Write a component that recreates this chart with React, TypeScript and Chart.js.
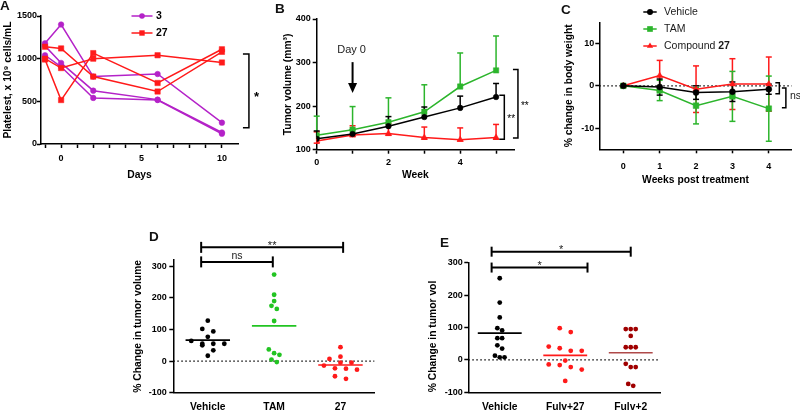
import React, { useEffect, useRef } from "react";
import { Chart, registerables } from "chart.js";

Chart.register(...registerables);

const FONT = "'Liberation Sans', Arial, Helvetica, sans-serif";
Chart.defaults.font.family = FONT;

const BLACK = "#000000";
const PURPLE = "#b422c8";
const RED = "#ff1a1a";
const GREEN = "#2cb52c";
const DOT_GREEN = "#22c422";
const DARKRED = "#a00000";
const DARKRED_MEAN = "#b04a4a";

/* ---------------- Panel A: platelets ---------------- */
const daysA = [-1, 0, 2, 6, 10];
const daysATicks = [-1, 0, 1, 2, 3, 4, 5, 6, 7, 8, 9, 10];
const plateletTicks = [0, 500, 1000, 1500];
const platelets3a = [1180, 1400, 790, 820, 250];
const platelets3b = [1150, 950, 625, 520, 135];
const platelets3c = [1040, 905, 540, 515, 120];
const platelets27a = [1140, 1120, 790, 615, 1080];
const platelets27b = [1000, 890, 1000, 1040, 955];
const platelets27c = [990, 515, 1065, 715, 1110];
const legendA = ["3", "27"];

/* ---------------- Panel B: tumor volume ---------------- */
const weeksB = [0, 1, 2, 3, 4, 5];
const volumeTicks = [100, 200, 300, 400];
const volVehicle = [125, 136, 154, 175, 196, 221];
const volVehicleErr = [18, 10, 22, 23, 27, 31];
const volTAM = [133, 146, 163, 187, 245, 282];
const volTAMErr = [44, 53, 56, 62, 77, 79];
const vol27 = [120, 134, 137, 128, 123, 128];
const vol27ErrUp = [21, 21, 23, 24, 27, 30];
const vol27ErrDown = [5, 4, 4, 4, 3, 4];

/* ---------------- Panel C: body weight ---------------- */
const weeksC = [0, 1, 2, 3, 4];
const bodyTicks = [-10, 0, 10];
const bwVehicle = [0, -0.3, -1.6, -1.4, -0.8];
const bwVehicleErr = [0, 1.9, 1.6, 2.3, 1.2];
const bwTAM = [0, -1.1, -4.7, -2.5, -5.4];
const bwTAMErr = [0, 2.4, 4.3, 5.9, 7.7];
const bw27 = [0, 2.4, -0.8, 0.4, 0.4];
const bw27Err = [0, 3.6, 5.5, 6.0, 6.4];
const legendC = ["Vehicle", "TAM", "Compound "];
const legendCBold = "27";

/* ---------------- Panel D ---------------- */
const catsD = ["Vehicle", "TAM", "27"];
const pctTicks = [-100, 0, 100, 200, 300];
const dVehicle = [128, 102, 94, 77, 64, 55, 55, 55, 50, 34, 17];
const dTAM = [274, 210, 190, 175, 165, 127, 37, 25, 20, 5, -3];
const d27 = [44, 14, 7, -5, -5, -14, -23, -24, -27, -48, -56];

/* ---------------- Panel E ---------------- */
const catsE = ["Vehicle", "Fulv+27", "Fulv+2"];
const eVehicle = [252, 177, 131, 98, 91, 67, 67, 45, 35, 13, 8, 8];
const eFulv27 = [98, 86, 41, 36, 28, 28, -2, -14, -16, -22, -30, -65];
const eFulv2 = [95, 95, 95, 74, 39, 39, 39, -12, -22, -22, -74, -80];

/* ---------------- helpers ---------------- */
type Pt = { x: number; y: number };
const mean = (a: number[]) => a.reduce((s, v) => s + v, 0) / a.length;

// simple row-based dot-plot layout (scatter dot plot spreading)
function swarm(values: number[], cat: number, tol: number, step: number): Pt[] {
  const sorted = [...values].sort((a, b) => a - b);
  const rows: number[][] = [];
  let cur: number[] = [];
  for (const v of sorted) {
    if (cur.length && v - cur[0] > tol) {
      rows.push(cur);
      cur = [];
    }
    cur.push(v);
  }
  if (cur.length) rows.push(cur);
  const pts: Pt[] = [];
  for (const row of rows) {
    const r = [...row].sort((a, b) => b - a);
    r.forEach((v, i) => pts.push({ x: cat + (i - (r.length - 1) / 2) * step, y: v }));
  }
  return pts;
}

const TICK_FONT = { family: FONT, size: 9, weight: "bold" as const };
const TITLE_FONT = { family: FONT, size: 10.3, weight: "bold" as const };

function linY(o: any) {
  return {
    type: "linear",
    position: "left",
    min: o.min,
    max: o.max,
    afterBuildTicks: (s: any) => {
      s.ticks = o.ticks.map((v: number) => ({ value: v }));
    },
    afterFit: (s: any) => {
      s.width = o.width;
    },
    border: { display: true, color: BLACK, width: 1.5 },
    grid: { display: true, drawOnChartArea: false, drawTicks: true, tickLength: 4, tickColor: BLACK, tickWidth: 1.5 },
    ticks: { color: BLACK, font: TICK_FONT, padding: o.tickPad, autoSkip: false, maxRotation: 0, callback: (v: any) => String(v) },
    title: { display: true, text: o.title, color: BLACK, font: TITLE_FONT, padding: { top: o.titlePad, bottom: 0 }, align: o.align || "center" },
  };
}

function linX(o: any) {
  return {
    type: "linear",
    position: "bottom",
    min: o.min,
    max: o.max,
    afterBuildTicks: (s: any) => {
      s.ticks = o.ticks.map((v: number) => ({ value: v }));
    },
    afterFit: (s: any) => {
      s.height = o.height;
    },
    border: { display: true, color: BLACK, width: 1.5 },
    grid: o.tickMarks
      ? { display: true, drawOnChartArea: false, drawTicks: true, tickLength: 4, tickColor: BLACK, tickWidth: 1.5 }
      : { display: false, drawOnChartArea: false, drawTicks: false },
    ticks: { color: BLACK, font: o.font || TICK_FONT, padding: o.tickPad, autoSkip: false, maxRotation: 0, callback: o.label },
    title: o.title
      ? { display: true, text: o.title, color: BLACK, font: TITLE_FONT, padding: { top: 0, bottom: o.titlePad } }
      : { display: false },
  };
}

function baseOptions(padding: any, scales: any) {
  return {
    responsive: false,
    maintainAspectRatio: false,
    animation: false,
    devicePixelRatio: 1,
    events: [],
    layout: { padding },
    plugins: { legend: { display: false }, tooltip: { enabled: false }, title: { display: false } },
    scales,
  };
}

function lineSet(xs: number[], ys: number[], color: string, style: string, radius: number) {
  return {
    data: xs.map((x, i) => ({ x, y: ys[i] })),
    borderColor: color,
    backgroundColor: color,
    borderWidth: 1.5,
    pointStyle: style,
    pointRadius: radius,
    pointHoverRadius: radius,
    pointBackgroundColor: color,
    pointBorderColor: color,
    pointBorderWidth: 0.5,
    tension: 0,
    fill: false,
  };
}

function setFont(ctx: CanvasRenderingContext2D, size: number, weight = "normal") {
  ctx.font = `${weight} ${size}px ${FONT}`;
}
function seg(ctx: CanvasRenderingContext2D, x1: number, y1: number, x2: number, y2: number) {
  ctx.beginPath();
  ctx.moveTo(x1, y1);
  ctx.lineTo(x2, y2);
  ctx.stroke();
}
function drawMarker(ctx: CanvasRenderingContext2D, style: string, x: number, y: number, r: number, color: string) {
  ctx.fillStyle = color;
  ctx.beginPath();
  if (style === "circle") ctx.arc(x, y, r, 0, Math.PI * 2);
  else if (style === "rect") {
    const s = r * Math.SQRT1_2;
    ctx.rect(x - s, y - s, 2 * s, 2 * s);
  } else {
    let rad = 0;
    for (let k = 0; k < 3; k++) {
      const px = x + Math.sin(rad) * r;
      const py = y - Math.cos(rad) * r;
      if (k === 0) ctx.moveTo(px, py);
      else ctx.lineTo(px, py);
      rad += (2 * Math.PI) / 3;
    }
    ctx.closePath();
  }
  ctx.fill();
}
function errorBars(chart: any, dsIndex: number, up: number[], down: number[], color: string, cap: number) {
  const ctx: CanvasRenderingContext2D = chart.ctx;
  const yS = chart.scales.y;
  const meta = chart.getDatasetMeta(dsIndex);
  const ds = chart.data.datasets[dsIndex].data;
  ctx.save();
  ctx.strokeStyle = color;
  ctx.lineWidth = 1.5;
  meta.data.forEach((el: any, i: number) => {
    const v = ds[i].y;
    if (up[i] > 0) {
      const yt = yS.getPixelForValue(v + up[i]);
      seg(ctx, el.x, el.y, el.x, yt);
      seg(ctx, el.x - cap / 2, yt, el.x + cap / 2, yt);
    }
    if (down[i] > 0) {
      const yb = yS.getPixelForValue(v - down[i]);
      seg(ctx, el.x, el.y, el.x, yb);
      seg(ctx, el.x - cap / 2, yb, el.x + cap / 2, yb);
    }
  });
  ctx.restore();
}
function vBracket(ctx: CanvasRenderingContext2D, x: number, yTop: number, yBot: number, tick: number) {
  ctx.beginPath();
  ctx.moveTo(x - tick, yTop);
  ctx.lineTo(x, yTop);
  ctx.lineTo(x, yBot);
  ctx.lineTo(x - tick, yBot);
  ctx.stroke();
}
function hBracket(ctx: CanvasRenderingContext2D, x1: number, x2: number, y: number, half: number) {
  seg(ctx, x1, y, x2, y);
  seg(ctx, x1, y - half, x1, y + half);
  seg(ctx, x2, y - half, x2, y + half);
}
function zeroLine(chart: any) {
  const ctx: CanvasRenderingContext2D = chart.ctx;
  const y = chart.scales.y.getPixelForValue(0);
  const { left, right } = chart.chartArea;
  ctx.save();
  ctx.setLineDash([1.5, 2.5]);
  ctx.lineWidth = 1.2;
  ctx.strokeStyle = BLACK;
  seg(ctx, left, y, right, y);
  ctx.restore();
}

/* ---------------- Panel configs ---------------- */
function configA() {
  const datasets = [
    ...[platelets27a, platelets27b, platelets27c].map((ys) => lineSet(daysA, ys, RED, "rect", 3.8)),
    ...[platelets3a, platelets3b, platelets3c].map((ys) => lineSet(daysA, ys, PURPLE, "circle", 2.8)),
  ];
  const plugin = {
    id: "annotA",
    afterDraw(chart: any) {
      const ctx: CanvasRenderingContext2D = chart.ctx;
      ctx.save();
      const entries = [
        { label: legendA[0], color: PURPLE, style: "circle", r: 2.8, y: 16 },
        { label: legendA[1], color: RED, style: "rect", r: 3.8, y: 33 },
      ];
      entries.forEach((e) => {
        ctx.strokeStyle = e.color;
        ctx.lineWidth = 1.5;
        seg(ctx, 131.5, e.y, 152.5, e.y);
        drawMarker(ctx, e.style, 142, e.y, e.r, e.color);
        ctx.fillStyle = BLACK;
        setFont(ctx, 10.5, "bold");
        ctx.textAlign = "left";
        ctx.textBaseline = "middle";
        ctx.fillText(e.label, 156, e.y + 0.5);
      });
      const xS = chart.scales.x;
      const yS = chart.scales.y;
      const bx = xS.getPixelForValue(11.68);
      const yt = yS.getPixelForValue(1055);
      const yb = yS.getPixelForValue(190);
      ctx.strokeStyle = BLACK;
      ctx.lineWidth = 1.5;
      vBracket(ctx, bx, yt, yb, 6);
      ctx.fillStyle = BLACK;
      setFont(ctx, 13, "bold");
      ctx.textAlign = "left";
      ctx.textBaseline = "alphabetic";
      ctx.fillText("*", bx + 5, (yt + yb) / 2 + 10);
      ctx.restore();
    },
  };
  return {
    type: "line",
    data: { datasets },
    options: baseOptions(
      { left: 0, top: 16, right: 32, bottom: 0 },
      {
        x: linX({ min: -1.25, max: 11, ticks: daysATicks, height: 46, title: "Days", titlePad: 8.7, tickPad: 5, tickMarks: true, label: (v: any) => (v % 5 === 0 ? String(v) : "") }),
        y: linY({ min: 0, max: 1500, ticks: plateletTicks, width: 41, title: "Platelest, x 10⁹ cells/mL", titlePad: 2, tickPad: 0 }),
      }
    ),
    plugins: [plugin],
  };
}

function configB() {
  const datasets = [
    lineSet(weeksB, volVehicle, BLACK, "circle", 2.8),
    lineSet(weeksB, volTAM, GREEN, "rect", 3.8),
    lineSet(weeksB, vol27, RED, "triangle", 3.6),
  ];
  const zeros = weeksB.map(() => 0);
  const plugin = {
    id: "annotB",
    beforeDatasetsDraw(chart: any) {
      errorBars(chart, 2, vol27ErrUp, vol27ErrDown, RED, 6);
      errorBars(chart, 1, volTAMErr, zeros, GREEN, 6);
      errorBars(chart, 0, volVehicleErr, zeros, BLACK, 6);
    },
    afterDraw(chart: any) {
      const ctx: CanvasRenderingContext2D = chart.ctx;
      const xS = chart.scales.x;
      const yS = chart.scales.y;
      ctx.save();
      // Day 0 marker
      const ax = xS.getPixelForValue(1);
      ctx.fillStyle = "#1a1a1a";
      setFont(ctx, 11, "normal");
      ctx.textAlign = "center";
      ctx.textBaseline = "middle";
      ctx.fillText("Day 0", ax - 1, yS.getPixelForValue(329));
      const yA = yS.getPixelForValue(301);
      const yT = yS.getPixelForValue(230);
      ctx.strokeStyle = BLACK;
      ctx.fillStyle = BLACK;
      ctx.lineWidth = 2;
      seg(ctx, ax, yA, ax, yT - 8);
      ctx.beginPath();
      ctx.moveTo(ax - 4.5, yT - 10);
      ctx.lineTo(ax + 4.5, yT - 10);
      ctx.lineTo(ax, yT);
      ctx.closePath();
      ctx.fill();
      // brackets
      ctx.lineWidth = 1.5;
      const br = [
        { x: 5.23, top: 225, bot: 124 },
        { x: 5.61, top: 284, bot: 127 },
      ];
      setFont(ctx, 10, "normal");
      ctx.textAlign = "left";
      ctx.textBaseline = "alphabetic";
      br.forEach((b) => {
        const bx = xS.getPixelForValue(b.x);
        const t = yS.getPixelForValue(b.top);
        const bt = yS.getPixelForValue(b.bot);
        vBracket(ctx, bx, t, bt, 5);
        ctx.fillText("**", bx + 3, (t + bt) / 2 + 5);
      });
      ctx.restore();
    },
  };
  return {
    type: "line",
    data: { datasets },
    options: baseOptions(
      { left: 0, top: 19, right: 26, bottom: 0 },
      {
        x: linX({ min: 0, max: 5.5, ticks: weeksB, height: 40.3, title: "Week", titlePad: 8.7, tickPad: 3.3, tickMarks: true, label: (v: any) => (v % 2 === 0 ? String(v) : "") }),
        y: linY({ min: 100, max: 400, ticks: volumeTicks, width: 46.7, title: "Tumor volume (mm³)", titlePad: 11.5, tickPad: 2 }),
      }
    ),
    plugins: [plugin],
  };
}

function configC() {
  const datasets = [
    lineSet(weeksC, bwVehicle, BLACK, "circle", 3),
    lineSet(weeksC, bwTAM, GREEN, "rect", 4),
    lineSet(weeksC, bw27, RED, "triangle", 3.6),
  ];
  const plugin = {
    id: "annotC",
    beforeDatasetsDraw(chart: any) {
      zeroLine(chart);
      errorBars(chart, 2, bw27Err, bw27Err, RED, 6);
      errorBars(chart, 1, bwTAMErr, bwTAMErr, GREEN, 6);
      errorBars(chart, 0, bwVehicleErr, bwVehicleErr, BLACK, 6);
    },
    afterDraw(chart: any) {
      const ctx: CanvasRenderingContext2D = chart.ctx;
      const xS = chart.scales.x;
      const yS = chart.scales.y;
      ctx.save();
      const entries = [
        { color: BLACK, style: "circle", r: 3, y: 12 },
        { color: GREEN, style: "rect", r: 4, y: 29 },
        { color: RED, style: "triangle", r: 3.6, y: 46 },
      ];
      entries.forEach((e, i) => {
        ctx.strokeStyle = e.color;
        ctx.lineWidth = 1.5;
        seg(ctx, 103.3, e.y, 116.7, e.y);
        drawMarker(ctx, e.style, 110, e.y, e.r, e.color);
        ctx.fillStyle = "#1a1a1a";
        setFont(ctx, 10.5, "normal");
        ctx.textAlign = "left";
        ctx.textBaseline = "middle";
        ctx.fillText(legendC[i], 124, e.y + 0.5);
        if (i === 2) {
          const w = ctx.measureText(legendC[i]).width;
          setFont(ctx, 10.5, "bold");
          ctx.fillText(legendCBold, 124 + w, e.y + 0.5);
        }
      });
      ctx.strokeStyle = BLACK;
      ctx.lineWidth = 1.5;
      const b1x = xS.getPixelForValue(4.29);
      vBracket(ctx, b1x, yS.getPixelForValue(0.7), yS.getPixelForValue(-1.9), 4);
      const b2x = xS.getPixelForValue(4.47);
      const t2 = yS.getPixelForValue(-0.5);
      const bt2 = yS.getPixelForValue(-5.2);
      vBracket(ctx, b2x, t2, bt2, 4);
      ctx.fillStyle = "#1a1a1a";
      setFont(ctx, 10.5, "normal");
      ctx.textAlign = "left";
      ctx.textBaseline = "middle";
      ctx.fillText("ns", b2x + 4, (t2 + bt2) / 2 - 2);
      ctx.restore();
    },
  };
  return {
    type: "line",
    data: { datasets },
    options: baseOptions(
      { left: 0, top: 22.3, right: 8.3, bottom: 0 },
      {
        x: linX({ min: -0.66, max: 4.63, ticks: weeksC, height: 45.7, title: "Weeks post treatment", titlePad: 8.7, tickPad: 8, tickMarks: true, label: (v: any) => String(v) }),
        y: linY({ min: -15, max: 15, ticks: bodyTicks, width: 59.3, title: "% change in body weight", titlePad: 23, tickPad: 1 }),
      }
    ),
    plugins: [plugin],
  };
}

function dotSet(values: number[], cat: number, tol: number, step: number, color: string) {
  return {
    data: swarm(values, cat, tol, step),
    backgroundColor: color,
    borderColor: color,
    pointRadius: 2.4,
    pointHoverRadius: 2.4,
    pointBorderWidth: 0,
    showLine: false,
  };
}
function meanSet(values: number[], cat: number, color: string) {
  const m = mean(values);
  return {
    data: [
      { x: cat - 0.335, y: m },
      { x: cat + 0.335, y: m },
    ],
    borderColor: color,
    backgroundColor: color,
    borderWidth: 1.6,
    pointRadius: 0,
    showLine: true,
  };
}

function hBracketPlugin(id: string, brackets: any[], half: number) {
  return {
    id,
    beforeDatasetsDraw(chart: any) {
      zeroLine(chart);
    },
    afterDraw(chart: any) {
      const ctx: CanvasRenderingContext2D = chart.ctx;
      const xS = chart.scales.x;
      const yS = chart.scales.y;
      ctx.save();
      ctx.strokeStyle = BLACK;
      ctx.fillStyle = "#1a1a1a";
      ctx.lineWidth = 2;
      brackets.forEach((b) => {
        const x1 = xS.getPixelForValue(b.from);
        const x2 = xS.getPixelForValue(b.to);
        const y = yS.getPixelForValue(b.y);
        hBracket(ctx, x1, x2, y, half);
        setFont(ctx, b.size, "normal");
        ctx.textAlign = "center";
        ctx.textBaseline = "alphabetic";
        ctx.fillText(b.text, (x1 + x2) / 2, y + b.dy);
      });
      ctx.restore();
    },
  };
}

function configD() {
  const datasets = [
    dotSet(dVehicle, 0, 16, 0.166, BLACK),
    dotSet(dTAM, 1, 17, 0.08, DOT_GREEN),
    dotSet(d27, 2, 16, 0.166, RED),
    meanSet(dVehicle, 0, BLACK),
    meanSet(dTAM, 1, DOT_GREEN),
    meanSet(d27, 2, RED),
  ];
  const plugin = hBracketPlugin(
    "annotD",
    [
      { from: -0.1, to: 2.04, y: 360, text: "**", size: 11, dy: 1.3 },
      { from: -0.1, to: 0.98, y: 314, text: "ns", size: 10.5, dy: -3 },
    ],
    5.5
  );
  return {
    type: "scatter",
    data: { datasets },
    options: baseOptions(
      { left: 0, top: 60, right: 25.7, bottom: 0 },
      {
        x: linX({ min: -0.52, max: 2.51, ticks: [0, 1, 2], height: 18.3, tickPad: 8, tickMarks: false, font: TITLE_FONT, label: (v: any) => catsD[v] ?? "" }),
        y: linY({ min: -100, max: 320, ticks: pctTicks, width: 73.3, title: "% Change in tumor volume", titlePad: 31.6, tickPad: 2.6 }),
      }
    ),
    plugins: [plugin],
  };
}

function configE() {
  const datasets = [
    dotSet(eVehicle, 0, 16, 0.073, BLACK),
    dotSet(eFulv27, 1, 16, 0.168, RED),
    dotSet(eFulv2, 2, 16, 0.076, DARKRED),
    meanSet(eVehicle, 0, BLACK),
    meanSet(eFulv27, 1, RED),
    meanSet(eFulv2, 2, DARKRED_MEAN),
  ];
  const plugin = hBracketPlugin(
    "annotE",
    [
      { from: -0.124, to: 2.0, y: 334, text: "*", size: 11, dy: 1.3 },
      { from: -0.124, to: 1.34, y: 285, text: "*", size: 11, dy: 1.3 },
    ],
    5
  );
  return {
    type: "scatter",
    data: { datasets },
    options: baseOptions(
      { left: 0, top: 62.7, right: 19.8, bottom: 0 },
      {
        x: linX({ min: -0.48, max: 2.45, ticks: [0, 1, 2], height: 18.7, tickPad: 8.4, tickMarks: false, font: TITLE_FONT, label: (v: any) => catsE[v] ?? "" }),
        y: linY({ min: -100, max: 300, ticks: pctTicks, width: 58.3, title: "% Change in tumor vol", titlePad: 17.2, tickPad: 1.5, align: "start" }),
      }
    ),
    plugins: [plugin],
  };
}

/* ---------------- components ---------------- */
function ChartCanvas(props: { left: number; top: number; width: number; height: number; make: () => any }) {
  const ref = useRef<HTMLCanvasElement | null>(null);
  useEffect(() => {
    if (!ref.current) return;
    const chart = new Chart(ref.current, props.make());
    return () => chart.destroy();
  }, []);
  return (
    <canvas
      ref={ref}
      width={props.width}
      height={props.height}
      style={{ position: "absolute", left: props.left, top: props.top, width: props.width, height: props.height }}
    />
  );
}

function Letter(props: { x: number; y: number; text: string }) {
  return (
    <div
      style={{
        position: "absolute",
        left: props.x,
        top: props.y,
        fontFamily: FONT,
        fontWeight: "bold",
        fontSize: 13.5,
        lineHeight: 1,
        color: "#111",
      }}
    >
      {props.text}
    </div>
  );
}

export default function App() {
  return (
    <div style={{ position: "fixed", left: 0, top: 0, width: 800, height: 411, background: "#ffffff", overflow: "hidden" }}>
      <ChartCanvas left={0} top={0} width={270} height={190} make={configA} />
      <ChartCanvas left={270} top={0} width={270} height={190} make={configB} />
      <ChartCanvas left={540} top={0} width={260} height={195} make={configC} />
      <ChartCanvas left={100} top={200} width={300} height={211} make={configD} />
      <ChartCanvas left={410} top={200} width={270} height={211} make={configE} />
      <Letter x={0} y={-1} text="A" />
      <Letter x={275} y={2} text="B" />
      <Letter x={561} y={3} text="C" />
      <Letter x={149} y={230} text="D" />
      <Letter x={440} y={235.5} text="E" />
    </div>
  );
}
